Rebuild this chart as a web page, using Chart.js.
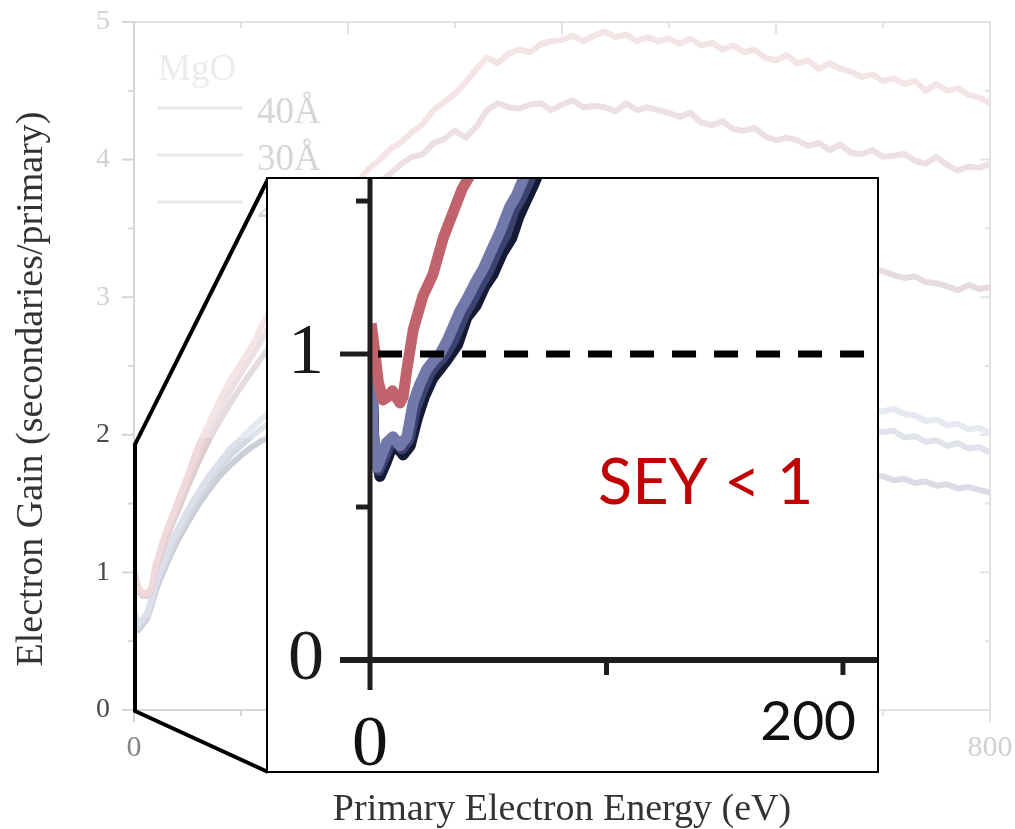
<!DOCTYPE html>
<html><head><meta charset="utf-8">
<script src="https://cdn.jsdelivr.net/npm/chart.js@4.4.1/dist/chart.umd.min.js"></script>
<style>
html,body{margin:0;padding:0;background:#fff;}
#wrap{position:relative;width:1015px;height:829px;overflow:hidden;background:#fff;}
#bg{position:absolute;left:0;top:0;}
#insetBox{position:absolute;left:266px;top:177px;width:609px;height:592px;border:2px solid #000;background:#fff;}
#inset{position:absolute;left:0;top:0;}
</style></head><body>
<div id="wrap">
<canvas id="bg" width="1015" height="829"></canvas>
<div id="insetBox"><canvas id="inset" width="609" height="592"></canvas></div>
</div>
<script>
// ---------------- DATA ----------------
const ENERGY = [0,4,8,12,16,20,25,30,35,
 40,50,60,70,80,90,100,110,120,130,
 140,150,160,170,180,190,200,210,220,230,
 240,250,260,270,280,290,300,310,320,330,
 340,350,360,370,380,390,400,410,420,430,
 440,450,460,470,480,490,500,510,520,530,
 540,550,560,570,580,590,600,610,620,630,
 640,650,660,670,680,690,700,710,720,730,
 740,750,760,770,780,790,800];

const GAIN_40A = [1.02,0.90,0.85,0.85,0.88,1.05,1.18,1.30,1.40,
 1.50,1.70,1.92,2.08,2.25,2.40,2.52,2.64,2.80,2.95,
 3.08,3.20,3.32,3.42,3.52,3.62,3.72,3.85,3.94,4.00,
 4.08,4.13,4.20,4.26,4.36,4.42,4.48,4.56,4.66,4.74,
 4.70,4.77,4.80,4.78,4.84,4.86,4.87,4.90,4.86,4.90,
 4.93,4.89,4.91,4.86,4.89,4.86,4.88,4.84,4.88,4.83,
 4.85,4.80,4.83,4.78,4.80,4.74,4.72,4.76,4.70,4.72,
 4.66,4.70,4.66,4.64,4.60,4.62,4.57,4.59,4.55,4.57,
 4.50,4.55,4.50,4.52,4.47,4.45,4.41];

const GAIN_30A = [1.00,0.88,0.84,0.84,0.87,1.02,1.15,1.27,1.37,
 1.46,1.66,1.86,2.03,2.18,2.32,2.45,2.57,2.70,2.83,
 2.95,3.06,3.17,3.28,3.38,3.48,3.58,3.68,3.76,3.84,
 3.90,3.97,4.02,4.04,4.12,4.15,4.21,4.16,4.24,4.36,
 4.41,4.38,4.37,4.40,4.41,4.36,4.40,4.43,4.38,4.39,
 4.38,4.35,4.41,4.36,4.38,4.36,4.34,4.31,4.34,4.27,
 4.25,4.28,4.22,4.21,4.23,4.17,4.14,4.16,4.14,4.10,
 4.12,4.07,4.11,4.05,4.04,4.07,4.02,4.03,4.04,3.99,
 3.97,4.02,3.96,3.92,3.95,3.94,3.97];

const GAIN_20A = [0.98,0.87,0.83,0.83,0.86,1.00,1.12,1.24,1.34,
 1.43,1.62,1.80,1.96,2.10,2.23,2.35,2.46,2.57,2.67,
 2.76,2.85,2.93,3.00,3.07,3.13,3.19,3.24,3.28,3.32,
 3.36,3.39,3.42,3.44,3.46,3.48,3.49,3.50,3.51,3.51,
 3.52,3.52,3.51,3.51,3.50,3.50,3.49,3.48,3.47,3.46,
 3.45,3.44,3.43,3.41,3.40,3.39,3.37,3.36,3.35,3.33,
 3.32,3.31,3.30,3.29,3.28,3.27,3.26,3.25,3.24,3.23,
 3.23,3.22,3.22,3.21,3.21,3.20,3.19,3.16,3.14,3.15,
 3.11,3.10,3.08,3.05,3.09,3.06,3.07];

const GAIN_BLUE_1 = [0.72,0.62,0.66,0.70,0.80,0.92,1.03,1.12,1.22,
 1.30,1.45,1.58,1.70,1.80,1.90,1.97,2.05,2.12,2.18,
 2.23,2.27,2.31,2.34,2.37,2.39,2.41,2.43,2.44,2.45,
 2.46,2.47,2.47,2.48,2.48,2.48,2.48,2.47,2.47,2.46,
 2.46,2.45,2.44,2.43,2.42,2.41,2.40,2.39,2.38,2.37,
 2.36,2.35,2.34,2.33,2.32,2.31,2.30,2.29,2.28,2.27,
 2.26,2.26,2.25,2.24,2.23,2.23,2.22,2.21,2.21,2.20,
 2.20,2.19,2.19,2.18,2.19,2.18,2.17,2.19,2.15,2.14,
 2.10,2.11,2.07,2.08,2.04,2.05,2.01];

const GAIN_BLUE_2 = [0.68,0.60,0.64,0.68,0.77,0.89,1.00,1.09,1.18,
 1.26,1.41,1.54,1.66,1.76,1.85,1.92,1.99,2.05,2.10,
 2.14,2.18,2.21,2.24,2.26,2.28,2.30,2.31,2.32,2.33,
 2.33,2.34,2.34,2.34,2.34,2.34,2.33,2.33,2.32,2.32,
 2.31,2.30,2.29,2.28,2.27,2.26,2.25,2.24,2.23,2.22,
 2.21,2.20,2.19,2.18,2.17,2.16,2.15,2.14,2.13,2.12,
 2.11,2.10,2.10,2.09,2.08,2.08,2.07,2.06,2.06,2.05,
 2.05,2.04,2.04,2.03,2.04,2.03,2.02,2.03,1.98,1.99,
 1.95,1.96,1.92,1.94,1.90,1.91,1.87];

const GAIN_BLUE_3 = [0.66,0.58,0.62,0.66,0.75,0.86,0.96,1.05,1.14,
 1.22,1.36,1.49,1.60,1.70,1.78,1.85,1.91,1.96,2.00,
 2.03,2.06,2.08,2.10,2.11,2.12,2.12,2.12,2.12,2.11,
 2.11,2.10,2.09,2.08,2.07,2.06,2.05,2.04,2.03,2.02,
 2.01,2.00,1.99,1.97,1.96,1.95,1.94,1.93,1.92,1.91,
 1.90,1.88,1.87,1.86,1.85,1.84,1.83,1.82,1.81,1.80,
 1.79,1.78,1.77,1.77,1.76,1.75,1.74,1.74,1.73,1.72,
 1.72,1.71,1.71,1.70,1.71,1.69,1.70,1.67,1.68,1.65,
 1.66,1.63,1.64,1.61,1.62,1.60,1.58];

const BG_LABELS = ['40Å', '30Å', '20Å', 'blue 1', 'blue 2', 'blue 3'];
const LEGEND_TITLE = 'MgO';
const BG_Y_TICKS = [0,0.5,1,1.5,2,2.5,3,3.5,4,4.5,5];
const BG_Y_LABELED = [0, 1, 2, 3, 4, 5];
const BG_X_TICKS = [0,100,200,300,400,500,600,700,800];
const BG_X_LABELED = [0, 200, 400, 600, 800];
const X_TITLE = 'Primary Electron Energy (eV)';
const Y_TITLE = 'Electron Gain (secondaries/primary)';

// inset (zoom of 0-214 eV)
const INSET_RED_E = [0.5,2,3.5,5.5,7.5,9.5,11,12.7,14,15.6,18.3,22.4,26.6,31,35,39,43.5,48];
const INSET_RED_V = [1.10,1.01,0.91,0.85,0.86,0.88,0.86,0.84,0.86,0.95,1.08,1.19,1.26,1.38,1.46,1.54,1.60,1.70];
const INSET_BLUE_E = [0.5,1.3,3,5,7,9.7,12.7,15.6,18.2,21,24,27,29.6,33,38,41,45,48,52,55,59,62,64.7,70];
const INSET_BLUE_V = [0.98,0.75,0.63,0.67,0.71,0.73,0.70,0.73,0.84,0.90,0.95,0.98,1.00,1.05,1.14,1.18,1.24,1.28,1.35,1.40,1.48,1.52,1.57,1.66];
const INSET_MID_E = [0.6,1.5,3.6,6,8,10.5,13.5,16.5,19.2,22,25.5,28.5,31,35,40,43,47,50,54,57.5,61,64,67,72];
const INSET_MID_V = [0.98,0.73,0.62,0.66,0.70,0.72,0.69,0.72,0.82,0.88,0.94,0.97,0.99,1.04,1.13,1.17,1.23,1.27,1.34,1.39,1.47,1.51,1.56,1.65];
const INSET_NAVY_E = [0.8,1.6,4.2,6.5,8.5,11,14,17,20,23,26.5,29.5,32.5,37,41,45,48.5,52,56,60,63,66,69,74];
const INSET_NAVY_V = [0.97,0.72,0.60,0.64,0.68,0.70,0.67,0.70,0.79,0.86,0.92,0.95,0.98,1.03,1.12,1.16,1.22,1.26,1.33,1.38,1.45,1.50,1.55,1.64];
const THRESHOLD_E = [3.4, 209.3];
const THRESHOLD_V = [1, 1];
const INSET_Y_TICKS = [0.5, 1, 1.5];
const INSET_Y_LABELED = [0, 1];
const INSET_X_TICKS = [100, 200];
const INSET_X_LABELED = [0, 200];
const SEY_TEXT = 'SEY < 1';

// ---------------- DRAW ----------------
const SERIF = "'Liberation Serif','Times New Roman',serif";
const SANS = "Lato,'Liberation Sans',sans-serif";
const toXY = (xs, ys) => xs.map((x, i) => ({x: x, y: ys[i]}));
function seg(ctx, x1, y1, x2, y2) { ctx.beginPath(); ctx.moveTo(x1, y1); ctx.lineTo(x2, y2); ctx.stroke(); }
function noPad(s) { s.paddingTop = 0; s.paddingBottom = 0; s.paddingLeft = 0; s.paddingRight = 0; }

const BG_COLORS = ['#f0d9dc', '#e6d3d6', '#ddcdcf', '#dde0ec', '#d5d7e2', '#cdcfd8'];
const BG_SERIES = [GAIN_40A, GAIN_30A, GAIN_20A, GAIN_BLUE_1, GAIN_BLUE_2, GAIN_BLUE_3];

const bgDecor = {
  id: 'bgDecor',
  beforeDatasetsDraw(chart) {
    const {ctx, chartArea: a, scales: {x, y}} = chart;
    ctx.save();
    ctx.strokeStyle = '#d6d6d6';
    ctx.lineWidth = 2;
    ctx.strokeRect(a.left, a.top, a.right - a.left, a.bottom - a.top);
    BG_Y_TICKS.forEach(v => {
      const py = y.getPixelForValue(v);
      const major = BG_Y_LABELED.includes(v);
      seg(ctx, a.left - (major ? 12 : 6), py, a.left, py);
      seg(ctx, a.right - (major ? 10 : 5), py, a.right, py);
    });
    BG_X_TICKS.forEach(v => {
      const px = x.getPixelForValue(v);
      const major = BG_X_LABELED.includes(v);
      seg(ctx, px, a.bottom, px, a.bottom + (major ? 12 : 6));
      seg(ctx, px, a.top, px, a.top + (major ? 12 : 6));
    });
    ctx.restore();
  },
  afterDraw(chart) {
    const {ctx, scales: {x, y}} = chart;
    ctx.save();
    // faded overlay
    ctx.fillStyle = 'rgba(255,255,255,0.3)';
    ctx.fillRect(136, 0, 879, 438);
    ctx.fillRect(268, 438, 747, 335);
    // legend
    ctx.fillStyle = '#ececec';
    ctx.font = '37px ' + SERIF;
    ctx.textAlign = 'left';
    ctx.textBaseline = 'alphabetic';
    ctx.fillText(LEGEND_TITLE, 158, 80);
    for (let i = 0; i < 3; i++) {
      const ly = 108 + 47 * i;
      ctx.strokeStyle = '#ebebeb';
      ctx.lineWidth = 3;
      seg(ctx, 157, ly, 243, ly);
      ctx.fillStyle = '#d6d6d6';
      ctx.fillText(chart.data.datasets[i].label, 257, ly + 15);
    }
    // zoom connectors
    const x0 = x.getPixelForValue(0);
    const yTop = y.getPixelForValue(1.93);
    const yBot = y.getPixelForValue(0);
    ctx.strokeStyle = '#000';
    ctx.lineWidth = 4;
    ctx.lineJoin = 'miter';
    ctx.beginPath();
    ctx.moveTo(268, 179);
    ctx.lineTo(x0 + 1, yTop);
    ctx.lineTo(x0 + 1, yBot + 1);
    ctx.lineTo(268, 772);
    ctx.stroke();
    // titles
    ctx.fillStyle = '#333';
    ctx.font = '38px ' + SERIF;
    ctx.textAlign = 'center';
    ctx.fillText(X_TITLE, (x.left + x.right) / 2, 820);
    ctx.translate(42, 389);
    ctx.rotate(-Math.PI / 2);
    ctx.fillText(Y_TITLE, 0, 0);
    ctx.restore();
  }
};

new Chart(document.getElementById('bg'), {
  type: 'line',
  data: {
    datasets: BG_SERIES.map((s, i) => ({
      label: BG_LABELS[i],
      data: toXY(ENERGY, s),
      borderColor: BG_COLORS[i],
      borderWidth: 6,
      pointRadius: 0,
      fill: false
    }))
  },
  options: {
    responsive: false, animation: false, devicePixelRatio: 1,
    layout: {padding: {top: 22, right: 25, left: 0, bottom: 0}},
    plugins: {legend: {display: false}, tooltip: {enabled: false}},
    elements: {line: {borderJoinStyle: 'round', tension: 0}},
    scales: {
      x: {
        type: 'linear', min: 0, max: 800,
        ticks: {stepSize: 100, autoSkip: false, maxRotation: 0, padding: 20,
          font: {family: SERIF, size: 30},
          color: c => c.tick.value === 0 ? '#858585' : '#bcbcbc',
          callback: v => BG_X_LABELED.includes(v) ? String(v) : null},
        grid: {display: false, drawTicks: false}, border: {display: false},
        afterFit(s) { s.height = 119; noPad(s); }
      },
      y: {
        min: 0, max: 5,
        ticks: {stepSize: 0.5, autoSkip: false, padding: 24,
          font: {family: SERIF, size: 28},
          color: c => c.tick.value >= 3 ? '#d2d2d2' : '#4a4a4a',
          callback: v => BG_Y_LABELED.includes(v) ? String(v) : null},
        grid: {display: false, drawTicks: false}, border: {display: false},
        afterFit(s) { s.width = 134; noPad(s); }
      }
    }
  },
  plugins: [bgDecor]
});

const insetDecor = {
  id: 'insetDecor',
  afterDatasetsDraw(chart) {
    const {ctx, chartArea: a, scales: {x, y}} = chart;
    const x0 = x.getPixelForValue(0), y0 = y.getPixelForValue(0);
    ctx.save();
    ctx.strokeStyle = '#1e1e1e';
    ctx.lineWidth = 5;
    seg(ctx, x0, 0, x0, y0 + 30);
    ctx.lineWidth = 6;
    seg(ctx, x0 - 30, y0, a.right, y0);
    ctx.lineWidth = 5;
    INSET_Y_TICKS.forEach(v => {
      const py = y.getPixelForValue(v);
      seg(ctx, x0 - (INSET_Y_LABELED.includes(v) ? 30 : 14), py, x0, py);
    });
    INSET_X_TICKS.forEach(v => {
      const px = x.getPixelForValue(v);
      seg(ctx, px, y0, px, y0 + 15);
    });
    // x tick labels
    ctx.fillStyle = '#111';
    ctx.textBaseline = 'alphabetic';
    ctx.font = '72px ' + SERIF;
    ctx.textAlign = 'center';
    ctx.fillText(String(INSET_X_LABELED[0]), x.getPixelForValue(INSET_X_LABELED[0]), y0 + 105);
    ctx.font = '55px ' + SANS;
    ctx.textAlign = 'right';
    ctx.fillText(String(INSET_X_LABELED[1]), x.getPixelForValue(INSET_X_LABELED[1]) + 13, y0 + 80);
    // SEY label
    ctx.fillStyle = '#c00000';
    ctx.font = '63px ' + SANS;
    ctx.textAlign = 'left';
    ctx.fillText(SEY_TEXT, x.getPixelForValue(96.4), y.getPixelForValue(0.51));
    ctx.restore();
  }
};

new Chart(document.getElementById('inset'), {
  type: 'line',
  data: {
    datasets: [
      {label: 'SEY = 1', data: toXY(THRESHOLD_E, THRESHOLD_V), borderColor: '#000', borderWidth: 7, borderDash: [24, 18], pointRadius: 0},
      {label: '40Å', data: toXY(INSET_RED_E, INSET_RED_V), borderColor: '#c0636c', borderWidth: 11, pointRadius: 0},
      {label: 'blue', data: toXY(INSET_BLUE_E, INSET_BLUE_V), borderColor: '#7278aa', borderWidth: 11, pointRadius: 0},
      {label: 'mid', data: toXY(INSET_MID_E, INSET_MID_V), borderColor: '#3b4270', borderWidth: 11, pointRadius: 0},
      {label: 'navy', data: toXY(INSET_NAVY_E, INSET_NAVY_V), borderColor: '#151b35', borderWidth: 11, pointRadius: 0}
    ]
  },
  options: {
    responsive: false, animation: false, devicePixelRatio: 1,
    layout: {padding: 0},
    plugins: {legend: {display: false}, tooltip: {enabled: false}},
    elements: {line: {borderJoinStyle: 'round', tension: 0}},
    scales: {
      x: {
        type: 'linear', min: 0, max: 214.4,
        ticks: {display: false, stepSize: 100, includeBounds: false},
        grid: {display: false, drawTicks: false}, border: {display: false},
        afterFit(s) { s.height = 111; noPad(s); }
      },
      y: {
        min: 0, max: 1.572,
        ticks: {stepSize: 0.5, includeBounds: false, autoSkip: false, padding: 46,
          color: '#1a1a1a', font: {family: SERIF, size: 72},
          callback: v => INSET_Y_LABELED.includes(v) ? String(v) : null},
        grid: {display: false, drawTicks: false}, border: {display: false},
        afterFit(s) { s.width = 102; noPad(s); }
      }
    }
  },
  plugins: [insetDecor]
});
</script>
</body></html>
